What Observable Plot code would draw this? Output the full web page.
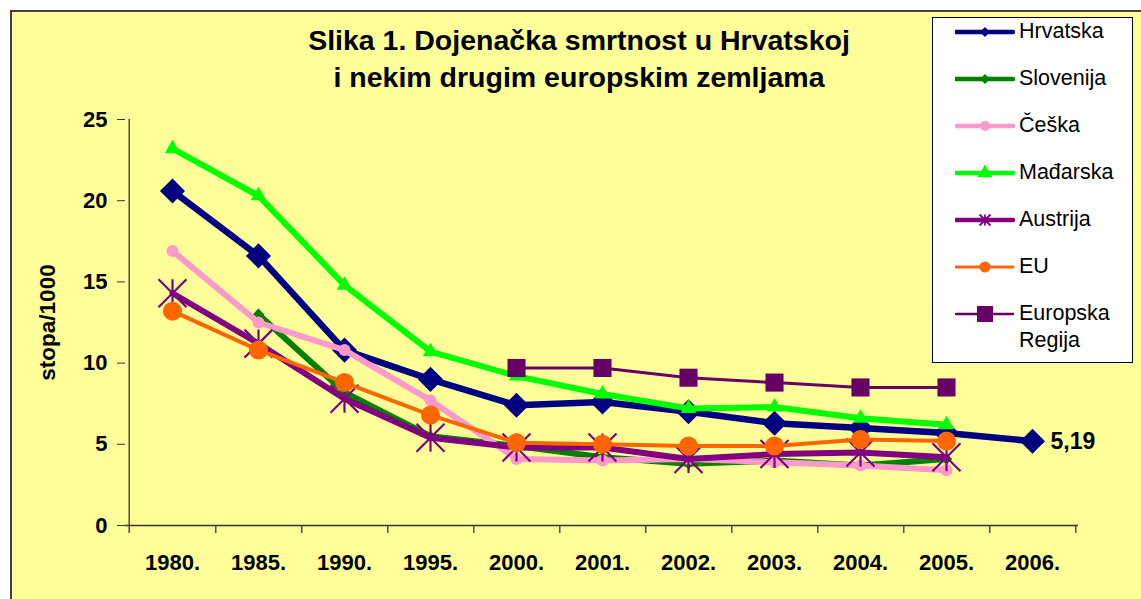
<!DOCTYPE html>
<html><head><meta charset="utf-8">
<script src="https://cdn.jsdelivr.net/npm/d3@7"></script>
<script src="https://cdn.jsdelivr.net/npm/@observablehq/plot@0.6"></script>
<style>
body{margin:0;background:#fff;font-family:"Liberation Sans",Arial,sans-serif}
#wrap{position:relative;width:1141px;height:599px;overflow:hidden}
#bg{position:absolute;left:10px;top:10px;width:1200px;height:700px;background:#FFFF99;border-left:2px solid #404040;border-top:2px solid #404040}
#plot{position:absolute;left:0;top:0}
#title{position:absolute;left:229px;width:700px;top:22px;text-align:center;font-weight:bold;font-size:28.5px;line-height:37px;color:#000}
#legend{position:absolute;left:932px;top:17px;width:199px;height:344px;background:#fff;border:1px solid #000}
.row{position:absolute;left:0;width:199px}
.row svg{position:absolute;left:22px;top:-12px}
.row span{position:absolute;left:86px;top:-14px;font-size:21.5px;line-height:27px;color:#000;white-space:nowrap}
</style></head>
<body>
<div id="wrap">
  <div id="bg"></div>
  <div id="plot"></div>
  <div id="title">Slika 1. Dojenačka smrtnost u Hrvatskoj<br>i nekim drugim europskim zemljama</div>
  <div id="legend"></div>
</div>
<script>
// ---- data ----
const years = ["1980.","1985.","1990.","1995.","2000.","2001.","2002.","2003.","2004.","2005.","2006."];
const seriesNames = ["Hrvatska","Slovenija","Češka","Mađarska","Austrija","EU","Europska Regija"];
const hrvatska = [20.6,16.6,10.8,9.0,7.4,7.6,7.0,6.3,6.0,5.7,5.19];
const slovenija = [null,13.0,8.2,5.5,4.9,4.2,3.8,4.0,3.7,4.1,null];
const ceska = [16.9,12.5,10.8,7.7,4.1,4.0,4.1,3.9,3.7,3.4,null];
const madarska = [23.2,20.3,14.8,10.7,9.2,8.1,7.2,7.3,6.6,6.2,null];
const austrija = [14.3,11.2,7.8,5.4,4.8,4.8,4.1,4.4,4.5,4.2,null];
const eu = [13.2,10.8,8.8,6.8,5.1,5.0,4.9,4.9,5.3,5.2,null];
const regija = [null,null,null,null,9.7,9.7,9.1,8.8,8.5,8.5,null];
const yTicks = [0,5,10,15,20,25];
const yLabel = "stopa/1000";

// ---- styles ----
const colors = ["#000080","#008000","#FF99CC","#00FF00","#800080","#FF6600","#660066"];
const star = {draw(ctx, size){ const r = Math.sqrt(size/Math.PI);
  ctx.moveTo(0,-r); ctx.lineTo(0,r);
  ctx.moveTo(-r,-r); ctx.lineTo(r,r);
  ctx.moveTo(-r,r); ctx.lineTo(r,-r); }};
const symbols = [d3.symbolDiamond2, d3.symbolDiamond2, d3.symbolCircle, d3.symbolTriangle, star, d3.symbolCircle, d3.symbolSquare];
const lineW = [6.5,6,6,6,6,4,3];
const markerR = [11.3,5.2,6,5.8,14,9.5,10.2];
const legendR = [4.5,4.5,5,5.5,5.5,5.5,9];
const legendLineW = [4.5,4.5,4.5,4.5,4.5,3,2.5];

const values = [hrvatska, slovenija, ceska, madarska, austrija, eu, regija];
const rows = seriesNames.flatMap((s,i)=>years.map((y,j)=>({series:s, year:y, value: values[i][j]})));

const W=1141, H=599, mL=125, mR=63, mT=119, mB=74;
const step = (W-mL-mR)/years.length;

const marks = [
  Plot.ruleY([0], {stroke:"#333", strokeWidth:1.3}),
  Plot.ruleX([years[0]], {x: d=>d, dx:-step/2, y1:25, y2:0, insetBottom:-8, stroke:"#333", strokeWidth:1.3}),
  Plot.ruleX(years, {x: d=>d, dx: step/2, y1:0, y2:0, insetBottom:-8, stroke:"#333", strokeWidth:1.3}),
  Plot.axisY({ticks:yTicks, tickSize:8, tickPadding:10, label:null, stroke:"#333"}),
  Plot.axisX({tickSize:0, tickPadding:29, label:null}),
  Plot.text([yLabel], {frameAnchor:"left", text:d=>d, rotate:-90, dx:-78, textAnchor:"middle", lineAnchor:"middle", fontSize:22.5, fontWeight:"bold", fill:"#000"})
];
seriesNames.forEach((s,i)=>{
  const d = rows.filter(r=>r.series===s);
  marks.push(Plot.line(d, {x:"year", y:"value", stroke:colors[i], strokeWidth:lineW[i]}));
  const ast = symbols[i]===star;
  marks.push(Plot.dot(d.filter(r=>r.value!=null), {x:"year", y:"value", symbol:symbols[i], r:markerR[i],
    fill: ast ? "none" : colors[i], stroke: ast ? colors[i] : "none", strokeWidth: ast ? 2.2 : 0}));
});
marks.push(Plot.text(rows.filter(r=>r.series==="Hrvatska" && r.year===years[years.length-1]), {
  x:"year", y:"value", text: d=>String(d.value).replace(".",","), dx:18, textAnchor:"start", fontSize:23, fontWeight:"bold", fill:"#000"}));

const chart = Plot.plot({
  width:W, height:H, marginLeft:mL, marginRight:mR, marginTop:mT, marginBottom:mB,
  style:{background:"transparent", fontFamily:"Liberation Sans, Arial, sans-serif", fontSize:"22px", fontWeight:"bold", color:"#000", overflow:"visible"},
  x:{type:"point", domain:years, padding:0.5},
  y:{domain:[0,25]},
  marks
});
document.getElementById("plot").appendChild(chart);

// ---- legend ----
const legend = document.getElementById("legend");
seriesNames.forEach((s,i)=>{
  const row = document.createElement("div");
  row.className="row";
  row.style.top = (14 + 47*i) + "px";
  const ast = symbols[i]===star;
  const path = d3.symbol(symbols[i], Math.PI*legendR[i]*legendR[i])();
  row.innerHTML = `<svg width="60" height="24" viewBox="0 0 60 24">
    <line x1="1" y1="12" x2="58" y2="12" stroke="${colors[i]}" stroke-width="${legendLineW[i]}" stroke-linecap="round"/>
    <path transform="translate(30,12)" d="${path}" fill="${ast?"none":colors[i]}" stroke="${ast?colors[i]:"none"}" stroke-width="1.8"/>
  </svg><span>${s.replace(" ","<br>")}</span>`;
  legend.appendChild(row);
});
</script>
</body></html>
